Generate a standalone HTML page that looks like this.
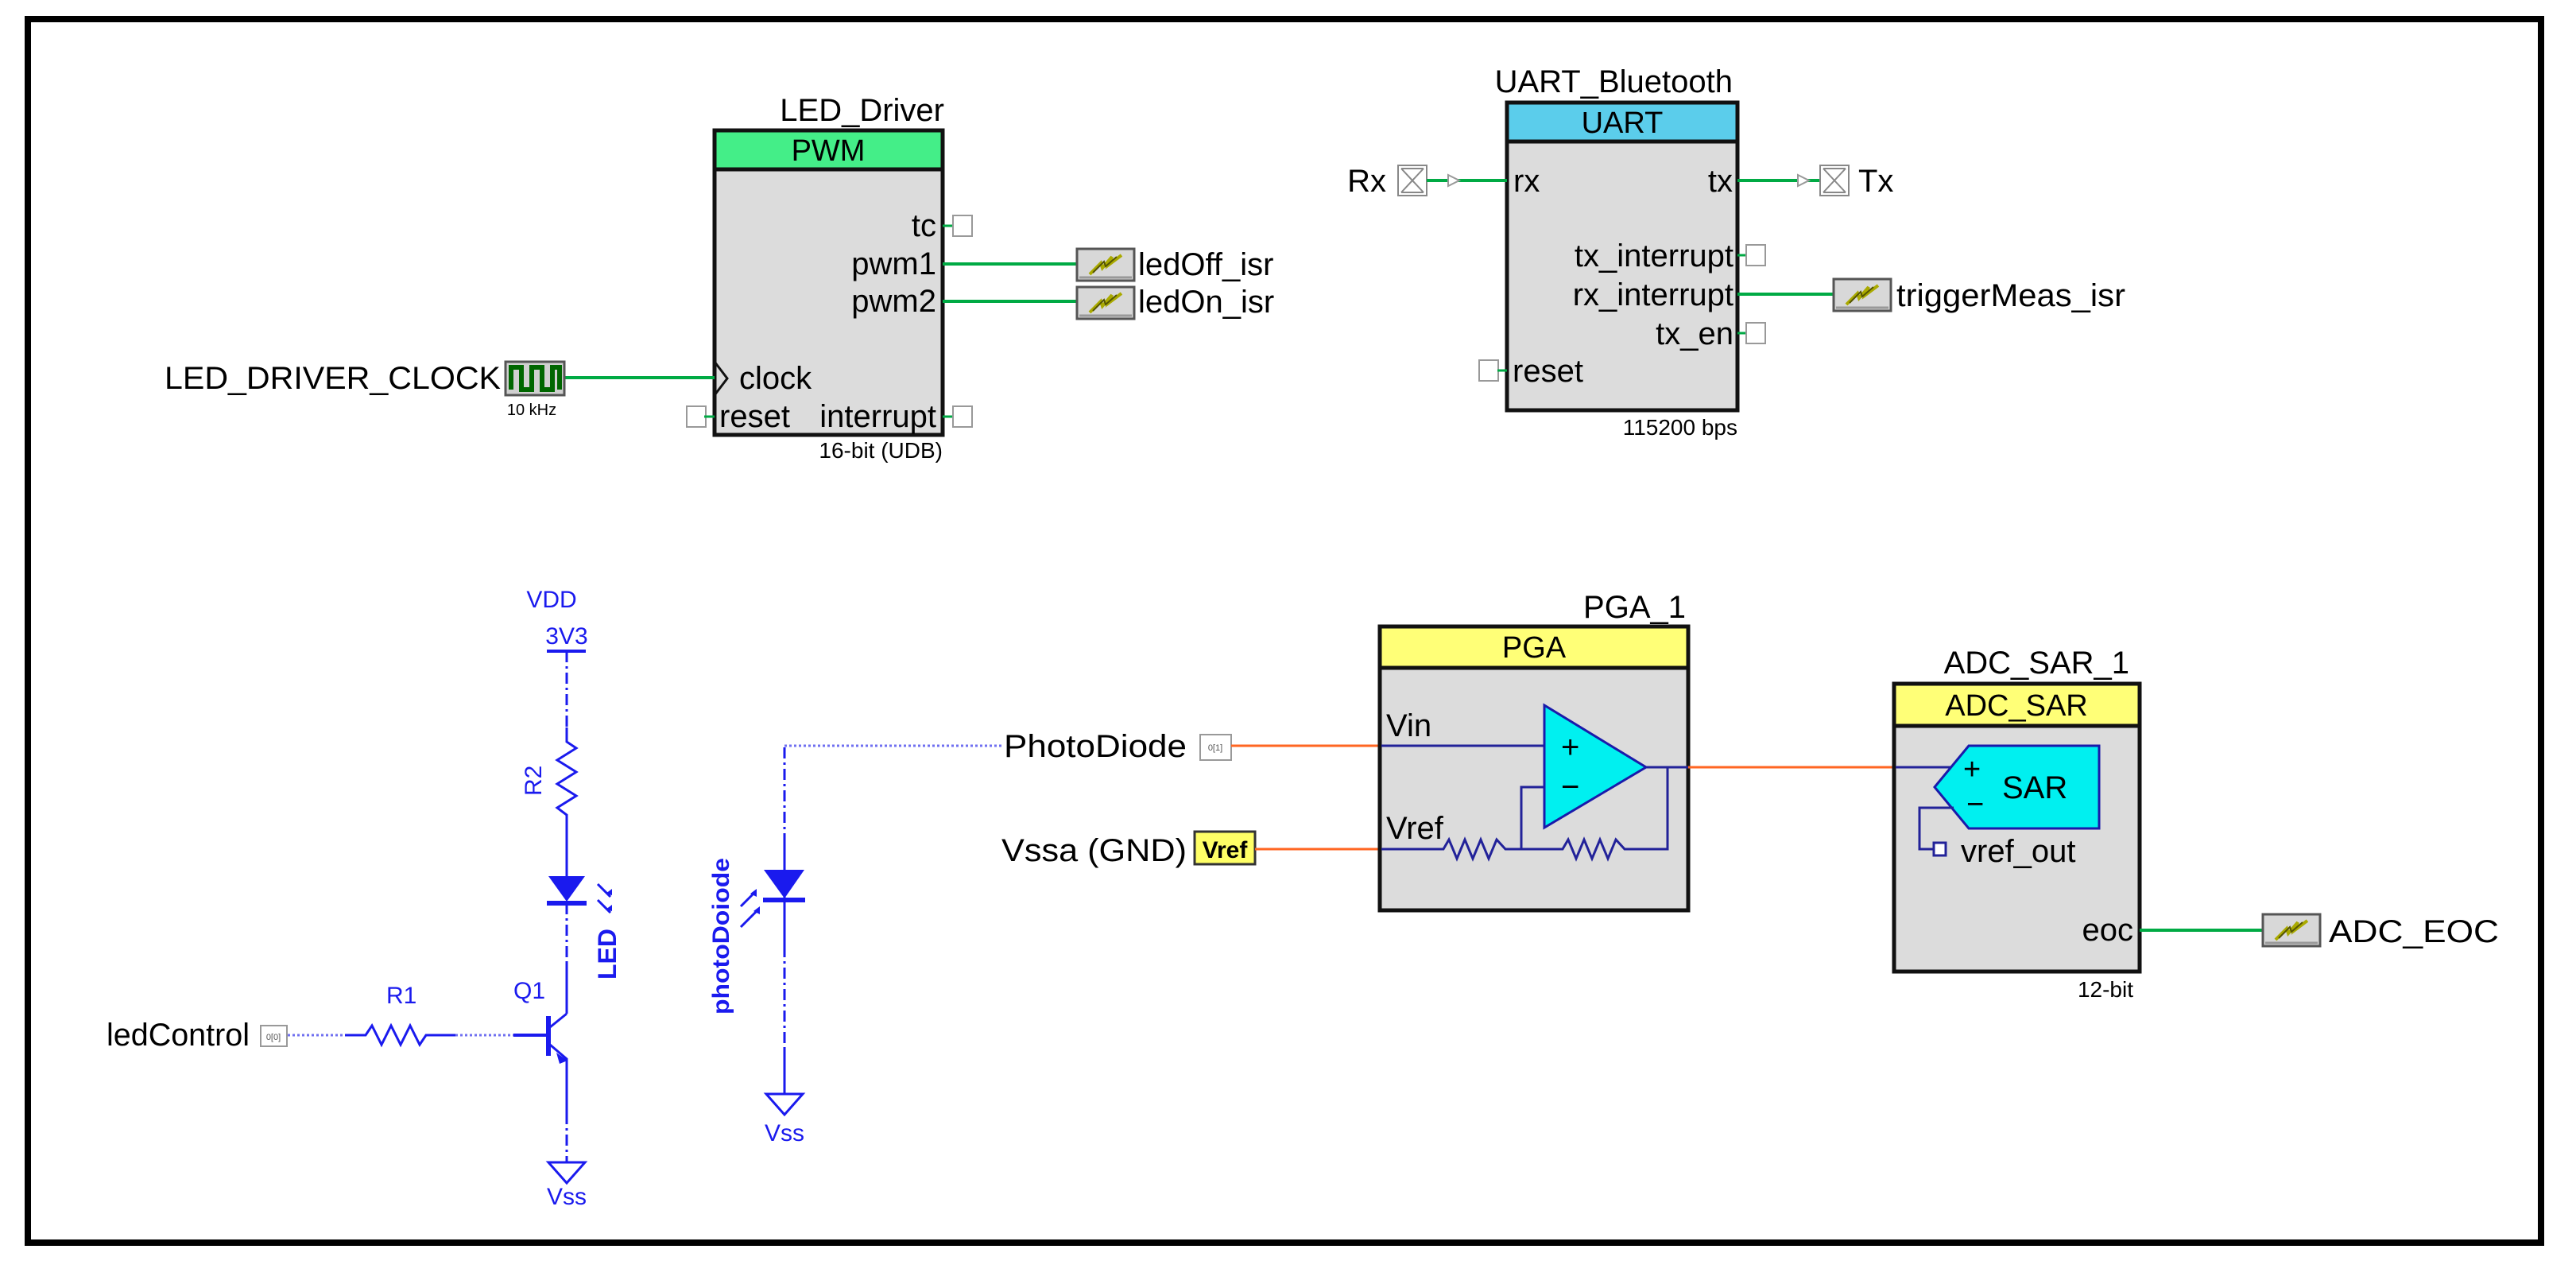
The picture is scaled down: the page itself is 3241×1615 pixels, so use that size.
<!DOCTYPE html>
<html><head><meta charset="utf-8"><style>
html,body{margin:0;padding:0;background:#fff;}
svg{display:block;}
text{font-family:"Liberation Sans",Arial,sans-serif;}
</style></head><body>
<svg width="3241" height="1615" viewBox="0 0 3241 1615" xmlns="http://www.w3.org/2000/svg">
<rect x="0" y="0" width="3241" height="1615" fill="#fff"/>
<!-- frame -->
<rect x="35" y="24" width="3162" height="1539" fill="none" stroke="#000" stroke-width="8"/>

<defs>
<g id="isr">
<rect x="0" y="0" width="72" height="40" fill="#d8d8d8" stroke="#555" stroke-width="3"/>
<line x1="3" y1="36" x2="69" y2="36" stroke="#999" stroke-width="3"/>
<path d="M16 32 L30 18 L32 24 L44 10 L40 20 L56 8" fill="none" stroke="#aaaa00" stroke-width="4"/>
<path d="M20 30 L34 16 L36 22 L50 10" fill="none" stroke="#555500" stroke-width="2"/>
</g>
<g id="pinsq">
<rect x="0" y="-13" width="24" height="26" fill="#fff" stroke="#999" stroke-width="2"/>
</g>
<g id="port">
<rect x="0" y="0" width="36" height="38" fill="#fff" stroke="#888" stroke-width="2"/>
<path d="M4 4 L32 34 M32 4 L4 34 M4 4 L32 4 M4 34 L32 34" stroke="#888" stroke-width="2" fill="none"/>
</g>
</defs>

<!-- ===== PWM LED_Driver ===== -->
<text x="1188" y="152" font-size="40" text-anchor="end">LED_Driver</text>
<rect x="899" y="164" width="287" height="383" fill="#dcdcdc" stroke="#111" stroke-width="5"/>
<rect x="899" y="164" width="287" height="49" fill="#44ee88" stroke="#111" stroke-width="5"/>
<text x="1042" y="202" font-size="38" text-anchor="middle">PWM</text>
<text x="1178" y="297" font-size="40" text-anchor="end">tc</text>
<line x1="1186" y1="284" x2="1198" y2="284" stroke="#00aa44" stroke-width="3"/>
<use href="#pinsq" x="1199" y="284"/>
<text x="1178" y="345" font-size="40" text-anchor="end">pwm1</text>
<line x1="1186" y1="332" x2="1355" y2="332" stroke="#00aa44" stroke-width="4"/>
<use href="#isr" x="1355" y="313"/>
<text x="1432" y="346" font-size="40">ledOff_isr</text>
<text x="1178" y="392" font-size="40" text-anchor="end">pwm2</text>
<line x1="1186" y1="379" x2="1355" y2="379" stroke="#00aa44" stroke-width="4"/>
<use href="#isr" x="1355" y="361"/>
<text x="1432" y="393" font-size="40">ledOn_isr</text>
<path d="M899 455 L915 476 L899 497" fill="none" stroke="#111" stroke-width="3"/>
<text x="930" y="489" font-size="40">clock</text>
<line x1="711" y1="475" x2="899" y2="475" stroke="#00aa44" stroke-width="4"/>
<rect x="636" y="455" width="74" height="42" fill="#d0d0d0" stroke="#555" stroke-width="3"/>
<path d="M643 490 L643 462 L656 462 L656 490 L669 490 L669 462 L682 462 L682 490 L695 490 L695 462 L704 462 L704 490" fill="none" stroke="#006600" stroke-width="6"/>
<text x="630" y="489" font-size="40" text-anchor="end" textLength="423" lengthAdjust="spacingAndGlyphs">LED_DRIVER_CLOCK</text>
<text x="669" y="522" font-size="20" text-anchor="middle">10 kHz</text>
<use href="#pinsq" x="864" y="524"/>
<line x1="886" y1="524" x2="899" y2="524" stroke="#00aa44" stroke-width="3"/>
<text x="905" y="537" font-size="40">reset</text>
<text x="1178" y="537" font-size="40" text-anchor="end">interrupt</text>
<line x1="1186" y1="524" x2="1198" y2="524" stroke="#00aa44" stroke-width="3"/>
<use href="#pinsq" x="1199" y="524"/>
<text x="1186" y="576" font-size="28" text-anchor="end">16-bit (UDB)</text>

<!-- ===== UART ===== -->
<text x="2180" y="116" font-size="40" text-anchor="end">UART_Bluetooth</text>
<rect x="1896" y="129" width="290" height="387" fill="#dcdcdc" stroke="#111" stroke-width="5"/>
<rect x="1896" y="129" width="290" height="49" fill="#5bcdeb" stroke="#111" stroke-width="5"/>
<text x="2041" y="167" font-size="38" text-anchor="middle">UART</text>
<text x="1744" y="241" font-size="40" text-anchor="end">Rx</text>
<use href="#port" x="1759" y="208"/>
<line x1="1795" y1="227" x2="1896" y2="227" stroke="#00aa44" stroke-width="4"/>
<path d="M1822 220 L1836 227 L1822 234 Z" fill="#fff" stroke="#999" stroke-width="2"/>
<text x="1904" y="241" font-size="40">rx</text>
<text x="2180" y="241" font-size="40" text-anchor="end">tx</text>
<line x1="2186" y1="227" x2="2289" y2="227" stroke="#00aa44" stroke-width="4"/>
<path d="M2262 220 L2276 227 L2262 234 Z" fill="#fff" stroke="#999" stroke-width="2"/>
<use href="#port" x="2290" y="208"/>
<text x="2338" y="241" font-size="40">Tx</text>
<text x="2181" y="335" font-size="40" text-anchor="end">tx_interrupt</text>
<line x1="2186" y1="321" x2="2197" y2="321" stroke="#00aa44" stroke-width="3"/>
<use href="#pinsq" x="2197" y="321"/>
<text x="2181" y="384" font-size="40" text-anchor="end">rx_interrupt</text>
<line x1="2186" y1="370" x2="2307" y2="370" stroke="#00aa44" stroke-width="4"/>
<use href="#isr" x="2307" y="351"/>
<text x="2386" y="385" font-size="40" textLength="288" lengthAdjust="spacingAndGlyphs">triggerMeas_isr</text>
<text x="2181" y="433" font-size="40" text-anchor="end">tx_en</text>
<line x1="2186" y1="419" x2="2197" y2="419" stroke="#00aa44" stroke-width="3"/>
<use href="#pinsq" x="2197" y="419"/>
<use href="#pinsq" x="1861" y="466"/>
<line x1="1884" y1="466" x2="1896" y2="466" stroke="#00aa44" stroke-width="3"/>
<text x="1903" y="480" font-size="40">reset</text>
<text x="2186" y="547" font-size="28" text-anchor="end">115200 bps</text>

<!-- ===== LED circuit (blue) ===== -->
<g fill="#1a1aee" font-size="30">
<text x="694" y="764" text-anchor="middle">VDD</text>
<text x="713" y="810" text-anchor="middle">3V3</text>
<text x="486" y="1262">R1</text>
<text x="646" y="1256">Q1</text>
<text x="713" y="1515" text-anchor="middle">Vss</text>
<text x="987" y="1435" text-anchor="middle">Vss</text>
<text transform="translate(681,1001) rotate(-90)">R2</text>
<text transform="translate(775,1232) rotate(-90)" font-weight="bold" font-size="32">LED</text>
<text transform="translate(917,1276) rotate(-90)" font-weight="bold" font-size="30" textLength="197" lengthAdjust="spacingAndGlyphs">photoDoiode</text>
</g>
<g stroke="#1a1aee" fill="none" stroke-width="3">
<line x1="688" y1="819" x2="737" y2="819" stroke-width="4"/>
<line x1="713" y1="819" x2="713" y2="915" stroke-dasharray="14 5 3 5"/>
<path d="M713 915 L713 933 L725 941 L701 956 L725 971 L701 986 L725 1001 L701 1016 L713 1025 L713 1102"/>
<line x1="713" y1="1136" x2="713" y2="1210" stroke-dasharray="14 5 3 5"/>
<line x1="713" y1="1210" x2="713" y2="1275"/>
<path d="M713 1275 L692 1292"/>
<path d="M692 1314 L713 1332 L713 1400"/>
<line x1="713" y1="1400" x2="713" y2="1462" stroke-dasharray="14 5 3 5"/>
<path d="M690 1462 L736 1462 L713 1488 Z"/>
<line x1="690" y1="1278" x2="690" y2="1328" stroke-width="6"/>
<line x1="646" y1="1302" x2="690" y2="1302" stroke-width="4"/>
<line x1="362" y1="1302" x2="434" y2="1302" stroke="#7070f0" stroke-dasharray="3 3"/>
<path d="M434 1302 L460 1302 L468 1290 L480 1314 L492 1290 L504 1314 L516 1290 L528 1314 L536 1302 L573 1302"/>
<line x1="573" y1="1302" x2="646" y2="1302" stroke="#7070f0" stroke-dasharray="3 3"/>
<!-- LED arrows -->
<path d="M752 1112 L768 1128 M752 1132 L768 1148"/>
<!-- photodiode -->
<line x1="987" y1="940" x2="987" y2="1060" stroke-dasharray="14 5 3 5"/>
<line x1="987" y1="1060" x2="987" y2="1190"/>
<line x1="987" y1="1190" x2="987" y2="1320" stroke-dasharray="14 5 3 5"/>
<line x1="987" y1="1320" x2="987" y2="1376"/>
<path d="M964 1376 L1010 1376 L987 1402 Z"/>
<line x1="987" y1="938" x2="1262" y2="938" stroke="#7070f0" stroke-dasharray="3 3"/>
<path d="M932 1166 L954 1144 M932 1140 L950 1122"/>
</g>
<g fill="#1a1aee">
<path d="M690 1102 L736 1102 L713 1134 Z"/>
<rect x="688" y="1133" width="50" height="6"/>
<path d="M700 1324 L714 1334 L704 1338 Z"/>
<path d="M961 1094 L1012 1094 L987 1130 Z"/>
<rect x="960" y="1129" width="53" height="6"/>
<path d="M770 1126 L770 1118 L762 1124 Z M770 1146 L770 1138 L762 1144 Z"/>
<path d="M956 1140 L956 1150 L948 1146 Z M952 1118 L952 1128 L944 1124 Z"/>
</g>
<text x="134" y="1315" font-size="40" textLength="180" lengthAdjust="spacingAndGlyphs">ledControl</text>
<rect x="328" y="1290" width="33" height="26" fill="#fff" stroke="#999" stroke-width="2"/>
<text x="344" y="1308" font-size="11" text-anchor="middle" fill="#555">0[0]</text>

<!-- ===== PhotoDiode / Vref inputs ===== -->
<text x="1263" y="952" font-size="40" textLength="230" lengthAdjust="spacingAndGlyphs">PhotoDiode</text>
<rect x="1510" y="924" width="39" height="32" fill="#fff" stroke="#999" stroke-width="2"/>
<text x="1529" y="944" font-size="11" text-anchor="middle" fill="#555">0[1]</text>
<line x1="1549" y1="938" x2="1736" y2="938" stroke="#ff6622" stroke-width="3"/>
<text x="1260" y="1083" font-size="40" textLength="233" lengthAdjust="spacingAndGlyphs">Vssa (GND)</text>
<rect x="1503" y="1046" width="76" height="41" fill="#ffff66" stroke="#333" stroke-width="3"/>
<text x="1541" y="1079" font-size="30" font-weight="bold" text-anchor="middle">Vref</text>
<line x1="1579" y1="1068" x2="1736" y2="1068" stroke="#ff6622" stroke-width="3"/>

<!-- ===== PGA ===== -->
<text x="2121" y="777" font-size="40" text-anchor="end">PGA_1</text>
<rect x="1736" y="788" width="388" height="357" fill="#dcdcdc" stroke="#111" stroke-width="5"/>
<rect x="1736" y="788" width="388" height="52" fill="#ffff77" stroke="#111" stroke-width="5"/>
<text x="1930" y="827" font-size="38" text-anchor="middle">PGA</text>
<text x="1744" y="926" font-size="40">Vin</text>
<text x="1744" y="1055" font-size="40">Vref</text>
<g stroke="#222299" stroke-width="3" fill="none">
<line x1="1738" y1="938" x2="1943" y2="938"/>
<path d="M1738 1068 L1816 1068 L1823 1056 L1833 1080 L1843 1056 L1853 1080 L1863 1056 L1873 1080 L1883 1056 L1894 1068 L1966 1068 L1973 1056 L1983 1080 L1993 1056 L2003 1080 L2013 1056 L2023 1080 L2033 1056 L2044 1068 L2098 1068 L2098 965"/>
<path d="M1943 990 L1914 990 L1914 1068"/>
<line x1="2071" y1="965" x2="2124" y2="965"/>
</g>
<path d="M1943 887 L2071 965 L1943 1041 Z" fill="#00f0f0" stroke="#1a1aaa" stroke-width="3"/>
<text x="1964" y="953" font-size="40">+</text>
<text x="1964" y="1003" font-size="40">−</text>
<line x1="2124" y1="965" x2="2383" y2="965" stroke="#ff6622" stroke-width="3"/>

<!-- ===== ADC SAR ===== -->
<text x="2679" y="847" font-size="40" text-anchor="end">ADC_SAR_1</text>
<rect x="2383" y="860" width="309" height="362" fill="#dcdcdc" stroke="#111" stroke-width="5"/>
<rect x="2383" y="860" width="309" height="53" fill="#ffff77" stroke="#111" stroke-width="5"/>
<text x="2537" y="900" font-size="38" text-anchor="middle">ADC_SAR</text>
<line x1="2385" y1="965" x2="2460" y2="965" stroke="#222299" stroke-width="3"/>
<path d="M2434 990 L2477 938 L2641 938 L2641 1042 L2477 1042 Z" fill="#00f0f0" stroke="#1a1aaa" stroke-width="3"/>
<text x="2470" y="980" font-size="38">+</text>
<text x="2474" y="1024" font-size="38">−</text>
<text x="2519" y="1004" font-size="40">SAR</text>
<path d="M2458 1016 L2415 1016 L2415 1068 L2433 1068" fill="none" stroke="#222299" stroke-width="3"/>
<rect x="2433" y="1060" width="15" height="16" fill="#fff" stroke="#222299" stroke-width="3"/>
<text x="2467" y="1084" font-size="40">vref_out</text>
<text x="2684" y="1183" font-size="40" text-anchor="end">eoc</text>
<line x1="2692" y1="1170" x2="2847" y2="1170" stroke="#00aa44" stroke-width="4"/>
<use href="#isr" x="2847" y="1150"/>
<text x="2930" y="1185" font-size="40" textLength="214" lengthAdjust="spacingAndGlyphs">ADC_EOC</text>
<text x="2684" y="1254" font-size="28" text-anchor="end">12-bit</text>
</svg>
</body></html>
